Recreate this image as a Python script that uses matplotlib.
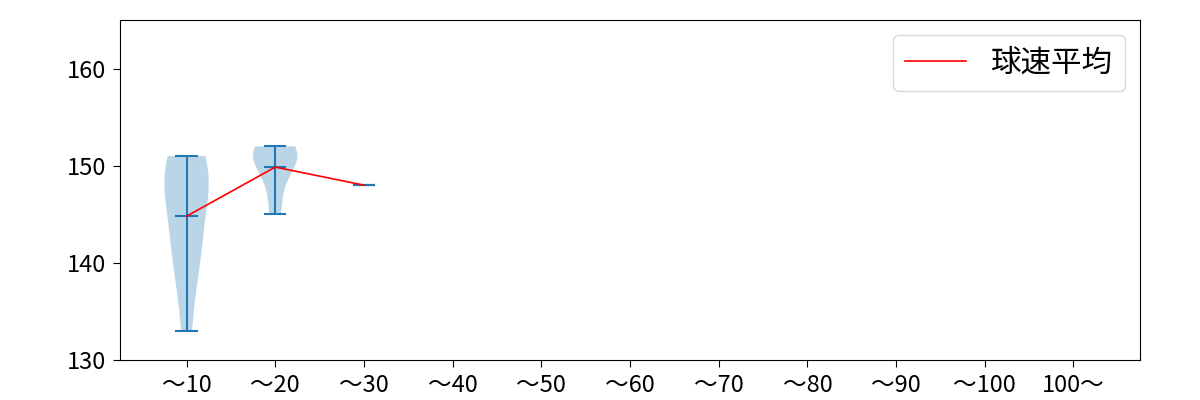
import matplotlib
matplotlib.use("Agg")
import matplotlib.pyplot as plt
import numpy as np

plt.rcParams['font.family'] = ['Noto Sans CJK JP', 'DejaVu Sans']

# pitch-count buckets
labels = ["～10", "～20", "～30", "～40", "～50", "～60", "～70", "～80", "～90", "～100", "100～"]

# pitch speeds (km/h) per bucket
speeds_10 = [133, 139, 142, 141, 146, 147, 149, 150, 150, 151]
speeds_20 = [145, 148, 150, 151, 152, 152, 151]
speeds_30 = [148]

groups = [speeds_10, speeds_20, speeds_30]
means = [np.mean(g) for g in groups]

fig = plt.figure(figsize=(12, 4), dpi=100)
ax = fig.add_axes([0.1, 0.1, 0.85, 0.85])

pos = list(range(1, len(groups) + 1))
ax.violinplot(groups, positions=pos, showmeans=True)
# empty buckets: placeholder below the visible range
empty_pos = list(range(len(groups) + 1, len(labels) + 1))
ax.violinplot([[0]] * len(empty_pos), positions=empty_pos, showmeans=True)

ax.plot(pos, means, color="red", linewidth=1.2, label="球速平均")

ax.set_xticks(range(1, len(labels) + 1))
ax.set_xticklabels(labels)
ax.set_xlim(0.25, 11.75)
ax.set_ylim(130, 165)
ax.set_yticks([130, 140, 150, 160])
ax.tick_params(axis='both', labelsize=17, length=5, pad=5)
ax.legend(loc="upper right", fontsize=22)

fig.savefig("out.png")
